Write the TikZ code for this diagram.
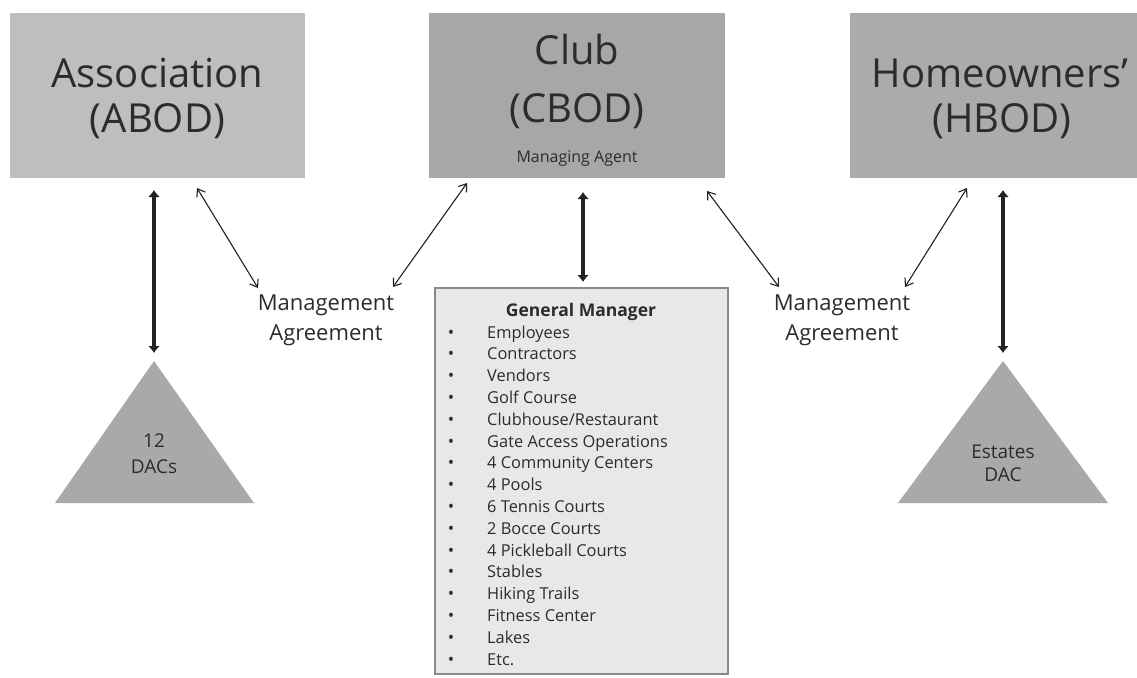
\documentclass[tikz,border=0pt]{standalone}
\usepackage{fontspec}
\setmainfont{Open Sans}
\usetikzlibrary{arrows.meta}
\definecolor{boxA}{HTML}{BDBEC0}
\definecolor{boxC}{HTML}{A7A7AA}
\definecolor{boxH}{HTML}{ABABAE}
\definecolor{tri}{HTML}{A9A9AC}
\definecolor{txt}{HTML}{2C2C2C}
\definecolor{gmfill}{HTML}{E8E8E9}
\definecolor{gmline}{HTML}{8A8A8C}
\definecolor{arr}{HTML}{222222}
\begin{document}
\begin{tikzpicture}[x=1pt,y=-1pt,
  bigbox/.style={rectangle, draw=none, inner sep=0pt},
  bigtext/.style={anchor=base, text=txt, inner sep=0pt, font=\fontsize{40}{40}\selectfont},
  smalltext/.style={anchor=base, text=txt, inner sep=0pt, font=\fontsize{16}{16}\selectfont},
  matext/.style={anchor=base, text=txt, inner sep=0pt, font=\fontsize{22}{22}\selectfont},
  tritext/.style={anchor=base, text=txt, inner sep=0pt, font=\fontsize{19}{19}\selectfont},
  itemtext/.style={anchor=base west, text=txt, inner sep=0pt, font=\fontsize{16.4}{16.4}\selectfont},
  thick arrow/.style={draw=arr, line width=4.5pt, {Latex[length=7pt,width=12pt]}-{Latex[length=7pt,width=12pt]}},
  thin arrow/.style={draw=arr, line width=1.1pt, {Straight Barb[length=7pt,width=10pt]}-{Straight Barb[length=7pt,width=10pt]}}
]
\useasboundingbox[fill=white] (0,0) rectangle (1137,677);

% top boxes
\node[bigbox, fill=boxA, minimum width=295pt, minimum height=165pt] (abod) at (157.5,95.5) {};
\node[bigbox, fill=boxC, minimum width=296pt, minimum height=165pt] (cbod) at (577,95.5) {};
\node[bigbox, fill=boxH, minimum width=287pt, minimum height=165pt] (hbod) at (993.5,95.5) {};

\node[bigtext] (abod1) at (157.5,87) {Association};
\node[bigtext] (abod2) at (157.5,132) {(ABOD)};
\node[bigtext] (cbod1) at (577,65) {Club};
\node[bigtext] (cbod2) at (577,122) {(CBOD)};
\node[smalltext] (cbod3) at (577,162) {Managing Agent};
\node[bigtext] (hbod1) at (1000,87) {Homeowners’};
\node[bigtext] (hbod2) at (1002,132) {(HBOD)};

% triangles
\fill[tri] (154,361) coordinate (ltop) -- (254,503) -- (55,503) -- cycle;
\fill[tri] (1003,361) coordinate (rtop) -- (1108,503) -- (898,503) -- cycle;
\node[tritext] (dac1) at (154,447) {12};
\node[tritext] (dac2) at (154,473) {DACs};
\node[tritext] (est1) at (1003,458) {Estates};
\node[tritext] (est2) at (1003,481) {DAC};

% general manager box
\node[bigbox, draw=gmline, line width=1.5pt, fill=gmfill, minimum width=293pt, minimum height=386pt] (gm) at (581.5,481) {};
\node[anchor=base, text=txt, inner sep=0pt, font=\fontsize{17.5}{17.5}\selectfont\bfseries] (gmtitle) at (581,316) {General Manager};
\foreach \t [count=\i from 0] in {Employees,Contractors,Vendors,Golf Course,Clubhouse/Restaurant,Gate Access Operations,4 Community Centers,4 Pools,6 Tennis Courts,2 Bocce Courts,4 Pickleball Courts,Stables,Hiking Trails,Fitness Center,Lakes,Etc.}{
  \node[anchor=base, text=txt, inner sep=0pt, font=\fontsize{17}{17}\selectfont] (bul\i) at (451,{338+21.8*\i}) {•};
  \node[itemtext] (item\i) at (487,{338+21.8*\i}) {\t};
}

% management agreement labels
\node[matext] (ma1a) at (326,310) {Management};
\node[matext] (ma1b) at (326,340) {Agreement};
\node[matext] (ma2a) at (842,310) {Management};
\node[matext] (ma2b) at (842,340) {Agreement};

% connector end coordinates
\coordinate (a1) at (154,190);
\coordinate (a2) at (154,353);
\coordinate (c1) at (583,192);
\coordinate (c2) at (583,282);
\coordinate (h1) at (1003,190);
\coordinate (h2) at (1003,353);
\coordinate (t1s) at (197,188);
\coordinate (t1e) at (258,288);
\coordinate (t2s) at (467,183);
\coordinate (t2e) at (393,287);
\coordinate (t3s) at (707,191);
\coordinate (t3e) at (779,287);
\coordinate (t4s) at (967,188);
\coordinate (t4e) at (905,287);

\draw[thick arrow] (a1) -- (a2);
\draw[thick arrow] (c1) -- (c2);
\draw[thick arrow] (h1) -- (h2);
\draw[thin arrow] (t1s) -- (t1e);
\draw[thin arrow] (t2s) -- (t2e);
\draw[thin arrow] (t3s) -- (t3e);
\draw[thin arrow] (t4s) -- (t4e);
\end{tikzpicture}
\end{document}
